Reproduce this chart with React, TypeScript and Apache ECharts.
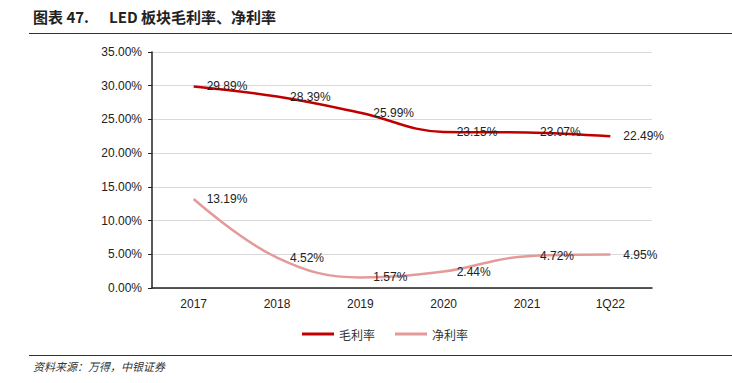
import React, { useEffect, useRef } from "react";
import * as echarts from "echarts";

const categories = ["2017", "2018", "2019", "2020", "2021", "1Q22"];
const grossMargin = [29.89, 28.39, 25.99, 23.15, 23.07, 22.49];
const netMargin = [13.19, 4.52, 1.57, 2.44, 4.72, 4.95];
const seriesNames = ["毛利率", "净利率"];
const titleNumber = "图表 47.";
const titleText = "LED 板块毛利率、净利率";
const sourceText = "资料来源：万得，中银证券";

export default function App() {
  const ref = useRef<HTMLDivElement>(null);
  useEffect(() => {
    const chart = echarts.init(ref.current!, null, { renderer: "svg" });
    const font = "'Liberation Sans', Arial, sans-serif";
    const labelCfg = {
      show: true,
      position: "right" as const,
      distance: 13,
      color: "#222",
      fontSize: 12,
      fontFamily: font,
      formatter: (p: any) => p.value.toFixed(2) + "%",
    };
    chart.setOption({
      animation: false,
      grid: { left: 152, right: 80, top: 52, bottom: 95, containLabel: false },
      xAxis: {
        type: "category",
        data: categories,
        boundaryGap: true,
        axisLine: { lineStyle: { color: "#222", width: 1.5 } },
        axisTick: { show: false },
        axisLabel: { color: "#222", fontSize: 12, fontFamily: font, margin: 10 },
      },
      yAxis: {
        type: "value",
        min: 0,
        max: 35,
        interval: 5,
        axisLine: { show: true, lineStyle: { color: "#222", width: 1.5 } },
        axisTick: { show: true, length: 4, inside: false, lineStyle: { color: "#222" } },
        axisLabel: {
          color: "#222",
          fontSize: 12,
          fontFamily: font,
          margin: 10,
          formatter: (v: number) => v.toFixed(2) + "%",
        },
        splitLine: { lineStyle: { color: "#d9d9d9", width: 1 } },
      },
      legend: {
        top: 323,
        left: 297,
        itemWidth: 32,
        itemHeight: 3,
        itemGap: 20,
        icon: "rect",
        textStyle: { fontSize: 12, color: "#333", fontFamily: "'Noto Sans CJK SC', sans-serif" },
        data: seriesNames,
      },
      series: [
        {
          name: seriesNames[0],
          type: "line",
          data: grossMargin,
          smooth: 0.4,
          symbol: "circle",
          symbolSize: 0,
          showSymbol: true,
          lineStyle: { color: "#C00000", width: 2.5 },
          itemStyle: { color: "#C00000" },
          label: labelCfg,
        },
        {
          name: seriesNames[1],
          type: "line",
          data: netMargin,
          smooth: 0.4,
          symbol: "circle",
          symbolSize: 0,
          showSymbol: true,
          lineStyle: { color: "#E59A9A", width: 2.5 },
          itemStyle: { color: "#E59A9A" },
          label: labelCfg,
        },
      ],
      graphic: [
        {
          type: "text",
          left: 33,
          top: 9,
          style: {
            text: titleNumber,
            fontSize: 15,
            fontWeight: "bold",
            fill: "#222",
            fontFamily: "'Noto Sans CJK SC', sans-serif",
          },
        },
        {
          type: "text",
          left: 109,
          top: 9,
          style: {
            text: titleText,
            fontSize: 15,
            fontWeight: "bold",
            fill: "#222",
            fontFamily: "'Noto Sans CJK SC', sans-serif",
          },
        },
        {
          type: "line",
          shape: { x1: 29, y1: 33.5, x2: 732, y2: 33.5 },
          style: { stroke: "#333", lineWidth: 1 },
        },
        {
          type: "line",
          shape: { x1: 29, y1: 355.5, x2: 732, y2: 355.5 },
          style: { stroke: "#333", lineWidth: 1 },
        },
        {
          type: "text",
          left: 33,
          top: 360,
          style: {
            text: sourceText,
            fontSize: 11,
            fontStyle: "italic",
            fill: "#333",
            fontFamily: "'Noto Sans CJK SC', sans-serif",
          },
        },
      ],
    });
    return () => chart.dispose();
  }, []);
  return <div ref={ref} style={{ width: 732, height: 383, position: "absolute", left: 0, top: 0 }} />;
}
